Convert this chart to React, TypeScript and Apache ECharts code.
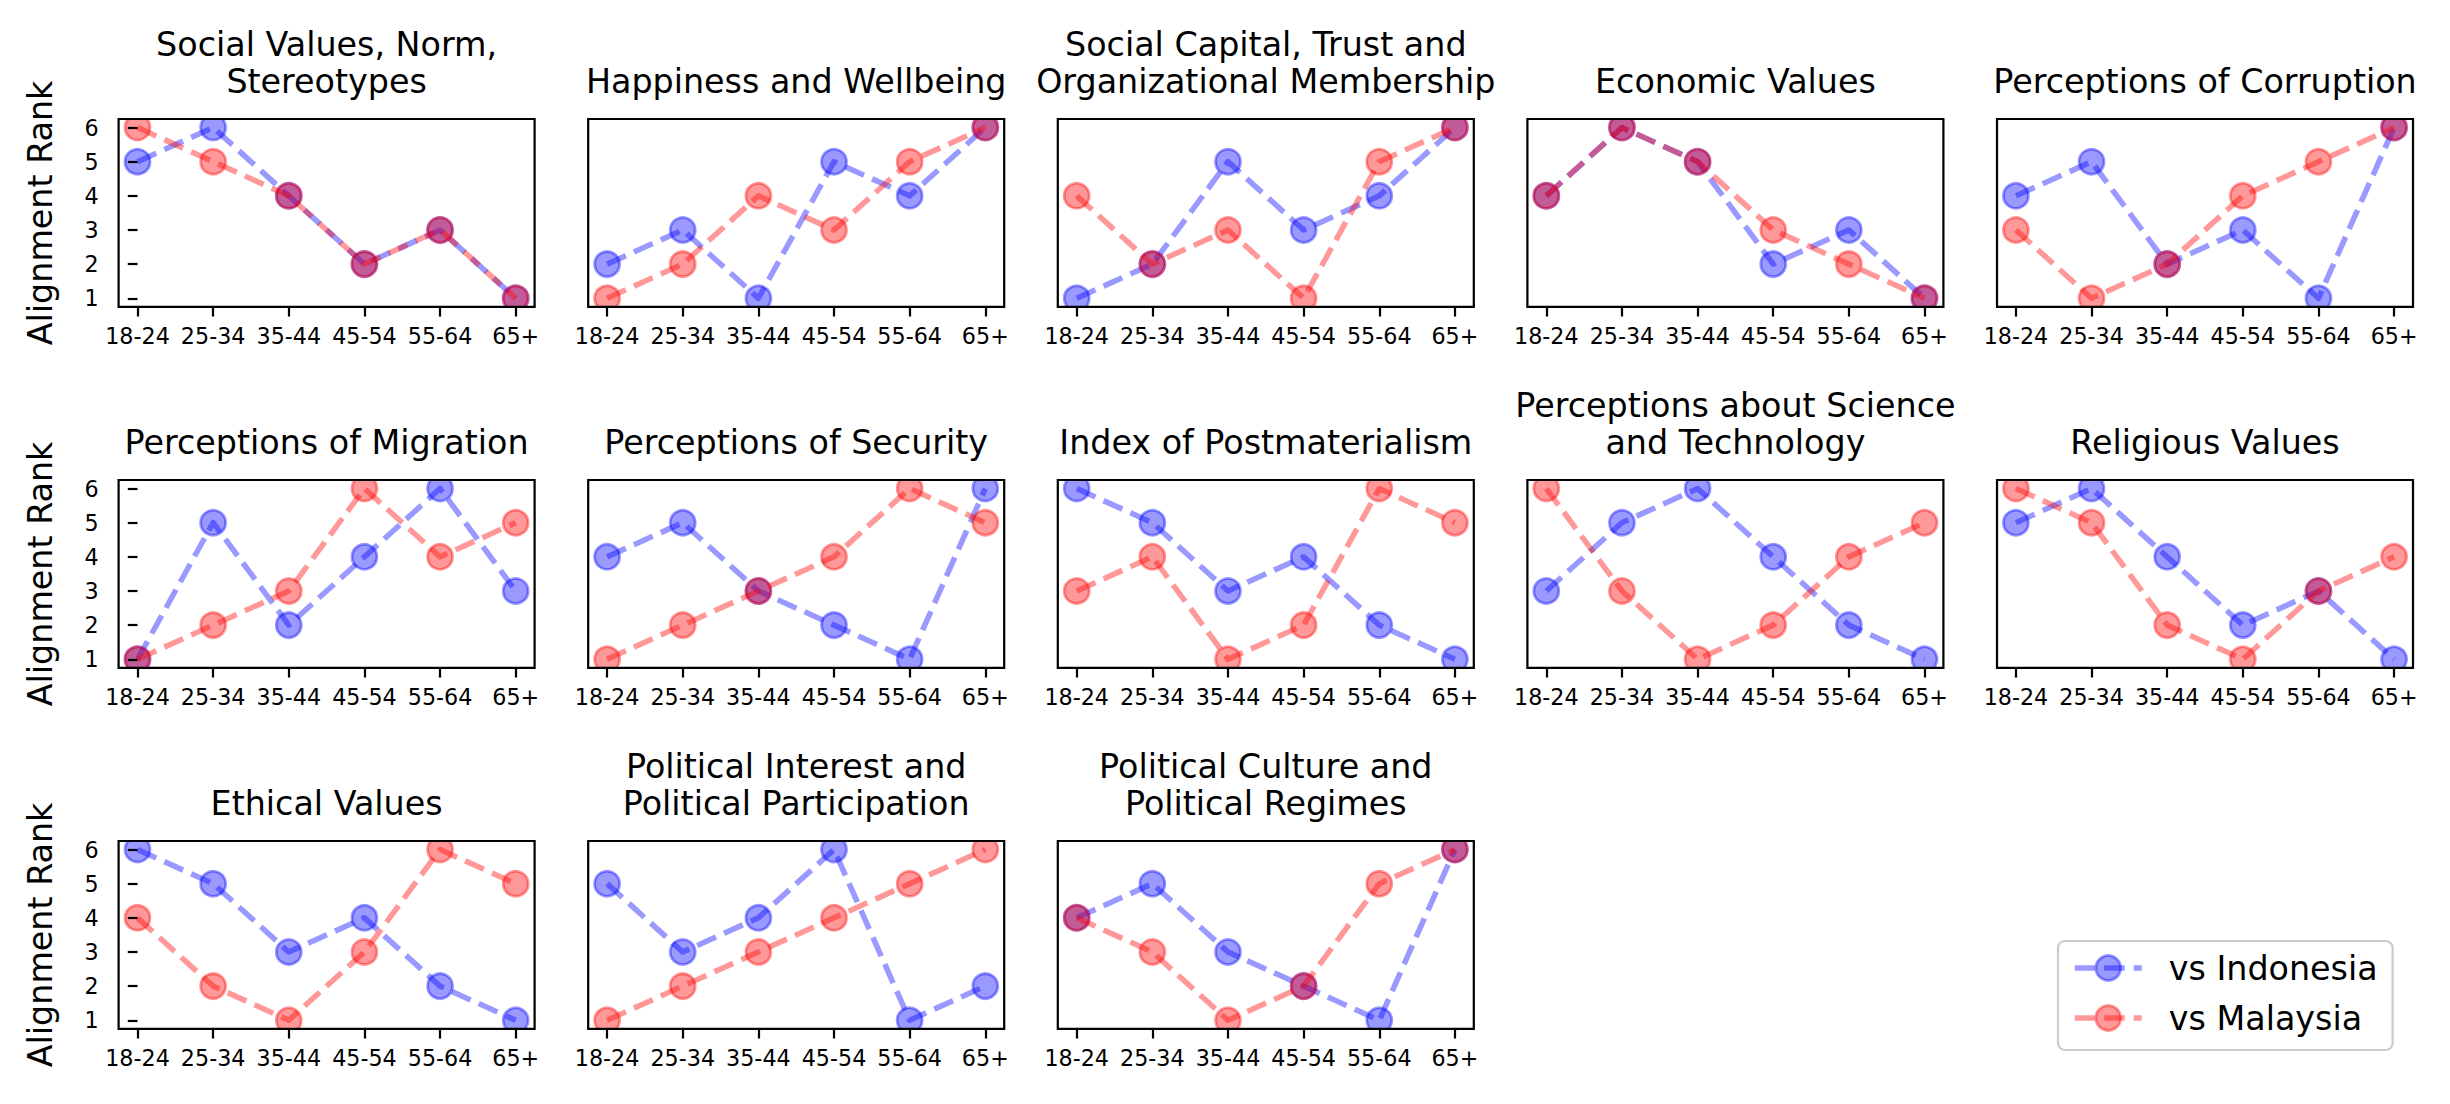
import React, { useEffect, useRef } from "react";
import * as echarts from "echarts";

// ---------- data ----------
const ageGroups = ["18-24", "25-34", "35-44", "45-54", "55-64", "65+"];
const rankTicks = [1, 2, 3, 4, 5, 6];
const seriesNames = ["vs Indonesia", "vs Malaysia"];

const panelTitles = [
  "Social Values, Norm,\nStereotypes",
  "Happiness and Wellbeing",
  "Social Capital, Trust and\nOrganizational Membership",
  "Economic Values",
  "Perceptions of Corruption",
  "Perceptions of Migration",
  "Perceptions of Security",
  "Index of Postmaterialism",
  "Perceptions about Science\nand Technology",
  "Religious Values",
  "Ethical Values",
  "Political Interest and\nPolitical Participation",
  "Political Culture and\nPolitical Regimes",
];

const socialValuesIndonesia = [5, 6, 4, 2, 3, 1];
const socialValuesMalaysia = [6, 5, 4, 2, 3, 1];
const happinessIndonesia = [2, 3, 1, 5, 4, 6];
const happinessMalaysia = [1, 2, 4, 3, 5, 6];
const socialCapitalIndonesia = [1, 2, 5, 3, 4, 6];
const socialCapitalMalaysia = [4, 2, 3, 1, 5, 6];
const economicIndonesia = [4, 6, 5, 2, 3, 1];
const economicMalaysia = [4, 6, 5, 3, 2, 1];
const corruptionIndonesia = [4, 5, 2, 3, 1, 6];
const corruptionMalaysia = [3, 1, 2, 4, 5, 6];
const migrationIndonesia = [1, 5, 2, 4, 6, 3];
const migrationMalaysia = [1, 2, 3, 6, 4, 5];
const securityIndonesia = [4, 5, 3, 2, 1, 6];
const securityMalaysia = [1, 2, 3, 4, 6, 5];
const postmaterialismIndonesia = [6, 5, 3, 4, 2, 1];
const postmaterialismMalaysia = [3, 4, 1, 2, 6, 5];
const scienceIndonesia = [3, 5, 6, 4, 2, 1];
const scienceMalaysia = [6, 3, 1, 2, 4, 5];
const religiousIndonesia = [5, 6, 4, 2, 3, 1];
const religiousMalaysia = [6, 5, 2, 1, 3, 4];
const ethicalIndonesia = [6, 5, 3, 4, 2, 1];
const ethicalMalaysia = [4, 2, 1, 3, 6, 5];
const politicalInterestIndonesia = [5, 3, 4, 6, 1, 2];
const politicalInterestMalaysia = [1, 2, 3, 4, 5, 6];
const politicalCultureIndonesia = [4, 5, 3, 2, 1, 6];
const politicalCultureMalaysia = [4, 3, 1, 2, 5, 6];

const indonesiaPanels = [
  socialValuesIndonesia, happinessIndonesia, socialCapitalIndonesia, economicIndonesia,
  corruptionIndonesia, migrationIndonesia, securityIndonesia, postmaterialismIndonesia,
  scienceIndonesia, religiousIndonesia, ethicalIndonesia, politicalInterestIndonesia,
  politicalCultureIndonesia,
];
const malaysiaPanels = [
  socialValuesMalaysia, happinessMalaysia, socialCapitalMalaysia, economicMalaysia,
  corruptionMalaysia, migrationMalaysia, securityMalaysia, postmaterialismMalaysia,
  scienceMalaysia, religiousMalaysia, ethicalMalaysia, politicalInterestMalaysia,
  politicalCultureMalaysia,
];

// ---------- layout / style ----------
const W = 2450;
const H = 1104;
const PX = 200 / 72;
const FONT = "DejaVu Sans";
const PANEL_W = 416;
const PANEL_H = 187.8;
const COL_LEFT0 = 118.6;
const COL_STEP = 469.6;
const ROW_TOP0 = 119;
const ROW_STEP = 361;
const NCOLS = 5;
const TITLE_FS = 12 * PX;
const TICK_FS = 8 * PX;
const TITLE_LH = 37.5;
const LINE_W = 2 * PX;
const DASH = [3.7 * LINE_W, 1.6 * LINE_W];
const MARKER = 9 * PX;
const MARKER_EDGE = 1 * PX;
const SPINE = 0.8 * PX;
const TICK_LEN = 3.5 * PX;
const BLUE = "rgba(0,0,255,0.4)";
const RED = "rgba(255,0,0,0.4)";
const COLORS = [BLUE, RED];

function buildOption() {
  const grid: any[] = [];
  const xAxis: any[] = [];
  const yAxis: any[] = [];
  const series: any[] = [];
  const title: any[] = [];
  const graphicEls: any[] = [];
  const xIdx = ageGroups.map((_, k) => k);

  panelTitles.forEach((t, i) => {
    const col = i % NCOLS;
    const row = Math.floor(i / NCOLS);
    const left = COL_LEFT0 + col * COL_STEP;
    const top = ROW_TOP0 + row * ROW_STEP;
    grid.push({
      left, top, width: PANEL_W, height: PANEL_H,
      show: true, borderColor: "#000", borderWidth: SPINE,
      backgroundColor: "transparent", z: 60,
    });
    xAxis.push({
      type: "value", gridIndex: i, min: -0.25, max: 5.25, z: 60,
      axisLine: { show: false }, splitLine: { show: false },
      axisTick: {
        show: true, customValues: xIdx, length: TICK_LEN, inside: false,
        lineStyle: { color: "#000", width: SPINE },
      },
      axisLabel: {
        show: true, customValues: xIdx, fontSize: TICK_FS, color: "#000",
        fontFamily: FONT, margin: 18,
        formatter: (v: number) => ageGroups[Math.round(v)] ?? "",
      },
    });
    const first = col === 0;
    yAxis.push({
      type: "value", gridIndex: i, min: 0.75, max: 6.25, z: 60,
      axisLine: { show: false }, splitLine: { show: false },
      axisTick: {
        show: first, customValues: rankTicks, length: TICK_LEN, inside: false,
        lineStyle: { color: "#000", width: SPINE },
      },
      axisLabel: {
        show: first, customValues: rankTicks, fontSize: TICK_FS, color: "#000",
        fontFamily: FONT, margin: 20,
      },
      name: first ? "Alignment Rank" : "",
      nameLocation: "middle", nameRotate: 90, nameGap: 62,
      nameTextStyle: { fontSize: TITLE_FS, color: "#000", fontFamily: FONT },
    });
    const nLines = t.split("\n").length;
    title.push({
      text: t, left: left + PANEL_W / 2, top: top - 56 - (nLines - 1) * TITLE_LH,
      textAlign: "center", padding: 0, z: 70,
      textStyle: {
        fontSize: TITLE_FS, fontWeight: "normal", color: "#000",
        fontFamily: FONT, lineHeight: TITLE_LH,
      },
    });
    [indonesiaPanels[i], malaysiaPanels[i]].forEach((vals, s) => {
      series.push({
        type: "line", name: seriesNames[s], xAxisIndex: i, yAxisIndex: i,
        data: vals.map((v, k) => [k, v]),
        symbol: "circle", symbolSize: MARKER, showSymbol: true, showAllSymbol: true,
        clip: false, silent: true, z: 2 + s,
        lineStyle: { color: COLORS[s], width: LINE_W, type: DASH, join: "round", cap: "butt" },
        itemStyle: { color: COLORS[s], borderColor: COLORS[s], borderWidth: MARKER_EDGE },
        emphasis: { disabled: true },
      });
    });
    // white strips so markers are cut at the frame like matplotlib clipping
    graphicEls.push({
      type: "rect", silent: true, z: 50,
      shape: { x: left - 4, y: top - 12, width: PANEL_W + 8, height: 12 },
      style: { fill: "#fff" },
    });
    graphicEls.push({
      type: "rect", silent: true, z: 50,
      shape: { x: left - 4, y: top + PANEL_H, width: PANEL_W + 8, height: 12 },
      style: { fill: "#fff" },
    });
  });

  const legend = {
    orient: "vertical", left: 2058, top: 941, z: 80,
    padding: [10, 15, 15, 14], itemGap: 16, itemWidth: 67, itemHeight: 31,
    backgroundColor: "rgba(255,255,255,0.8)", borderColor: "#cccccc",
    borderWidth: SPINE, borderRadius: 7, selectedMode: false,
    textStyle: { fontSize: TITLE_FS, color: "#000", fontFamily: FONT, lineHeight: 34, padding: [0, 0, 0, 22] },
    data: seriesNames.map((n, s) => ({
      name: n,
      itemStyle: { color: COLORS[s], borderColor: COLORS[s], borderWidth: MARKER_EDGE },
      lineStyle: { color: COLORS[s], width: LINE_W, type: DASH },
    })),
  };

  return {
    animation: false,
    backgroundColor: "#fff",
    textStyle: { fontFamily: FONT },
    title, grid, xAxis, yAxis, series, legend,
    graphic: { elements: graphicEls },
  };
}

export default function App() {
  const ref = useRef<HTMLDivElement>(null);
  useEffect(() => {
    if (!ref.current) return;
    const chart = echarts.init(ref.current, undefined, { renderer: "svg", width: W, height: H });
    chart.setOption(buildOption() as any);
    return () => chart.dispose();
  }, []);
  return (
    <div
      ref={ref}
      style={{ position: "absolute", left: 0, top: 0, width: W, height: H, background: "#fff" }}
    />
  );
}
